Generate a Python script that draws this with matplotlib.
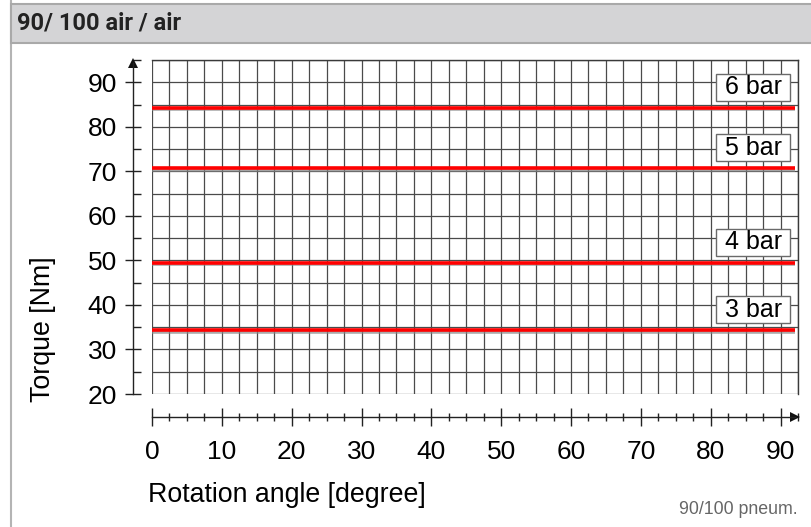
import matplotlib
matplotlib.use("Agg")
import matplotlib.pyplot as plt
import matplotlib.patheffects as pe
import matplotlib.transforms as mtrans
from matplotlib.patches import Rectangle
from matplotlib.ticker import MultipleLocator

# data
angle = [0, 92]
pressures = ["6 bar", "5 bar", "4 bar", "3 bar"]
torque = [84.3, 70.7, 49.5, 34.3]
label_x = 86.1
label_offset = 4.6

W, H = 811, 527
plt.rcParams["font.family"] = ["Liberation Sans", "DejaVu Sans"]

fig = plt.figure(figsize=(W / 100, H / 100), dpi=100)


def px(x, y):
    """pixel (from top-left) -> figure fraction"""
    return x / W, 1 - y / H


# frame + header band
frame = Rectangle((10.5 / W, -0.1), 1.0, 1.2, transform=fig.transFigure,
                  facecolor="white", edgecolor="#b4b4b4", lw=1.5, zorder=-10)
fig.patches.append(frame)
header = Rectangle((10.5 / W, 1 - 42.5 / H), 1.0, 38 / H, transform=fig.transFigure,
                   facecolor="#d4d4d6", edgecolor="#a9a9a9", lw=1.5, zorder=-9)
fig.patches.append(header)
fig.text(*px(17, 23), "90/ 100 air / air", family=["Roboto", "DejaVu Sans"],
         fontweight="bold", fontsize=17, color="#222222", va="center", ha="left")

# main axes: x 0..92.5 -> px 152..798, y 20..95 -> px 394..60
ax = fig.add_axes([152 / W, 1 - 394 / H, 646 / W, 334 / H])
ax.patch.set_alpha(0)
ax.set_xlim(0, 92.5)
ax.set_ylim(20, 95)

ax.xaxis.set_major_locator(MultipleLocator(10))
ax.xaxis.set_minor_locator(MultipleLocator(2.5))
ax.yaxis.set_major_locator(MultipleLocator(10))
ax.yaxis.set_minor_locator(MultipleLocator(5))
ax.grid(which="both", color="#4a4a4a", lw=0.9)
ax.set_axisbelow(True)

for side in ("top", "right"):
    ax.spines[side].set_color("#3a3a3a")
    ax.spines[side].set_linewidth(1.0)
ax.spines["left"].set_position(("outward", 13.7))
ax.spines["bottom"].set_position(("outward", 16.6))
ax.spines["left"].set_bounds(20, 94.3)
ax.spines["bottom"].set_bounds(0, 92.0)
for side in ("left", "bottom"):
    ax.spines[side].set_color("#222222")
    ax.spines[side].set_linewidth(1.0)

ax.tick_params(axis="y", which="major", direction="inout", length=11, width=1,
               color="#222222", pad=6, labelsize=19)
ax.tick_params(axis="y", which="minor", direction="in", length=6, width=1, color="#222222")
ax.tick_params(axis="x", which="major", direction="inout", length=13, width=1,
               color="#222222", pad=10, labelsize=19)
ax.tick_params(axis="x", which="minor", direction="inout", length=6, width=1, color="#222222")
ax.set_xticks(range(0, 91, 10))
ax.set_yticks(range(20, 91, 10))

# arrow heads on the offset axes
ytr = mtrans.offset_copy(ax.transData, fig=fig, x=-19, y=0, units="dots")
xtr = mtrans.offset_copy(ax.transData, fig=fig, x=0, y=-23, units="dots")
ax.plot([0], [94.3], marker="^", ms=7, mew=0, color="#111111", transform=ytr, clip_on=False)
ax.plot([92.0], [20], marker=">", ms=7, mew=0, color="#111111", transform=xtr, clip_on=False)

# torque lines
for name, t in zip(pressures, torque):
    ax.plot(angle, [t, t], color="#ff0000", lw=2.6, zorder=5, solid_capstyle="butt",
            path_effects=[pe.SimpleLineShadow(offset=(0, -1.2), shadow_color="#888888", alpha=0.7),
                          pe.Normal()])
    ax.text(label_x, t + label_offset, f" {name} ", fontsize=18, ha="center", va="center",
            zorder=6,
            bbox=dict(boxstyle="square,pad=0.06", facecolor="white", edgecolor="#6a6a6a", lw=1))

fig.text(*px(148, 495), "Rotation angle [degree]", fontsize=19.3, ha="left", va="center")
fig.text(*px(43, 402), "Torque [Nm]", fontsize=19.3, rotation=90, ha="center", va="bottom")
fig.text(*px(798, 509), "90/100 pneum.", fontsize=12.8, color="#666666", ha="right", va="center")

fig.savefig("out.png", dpi=100)
